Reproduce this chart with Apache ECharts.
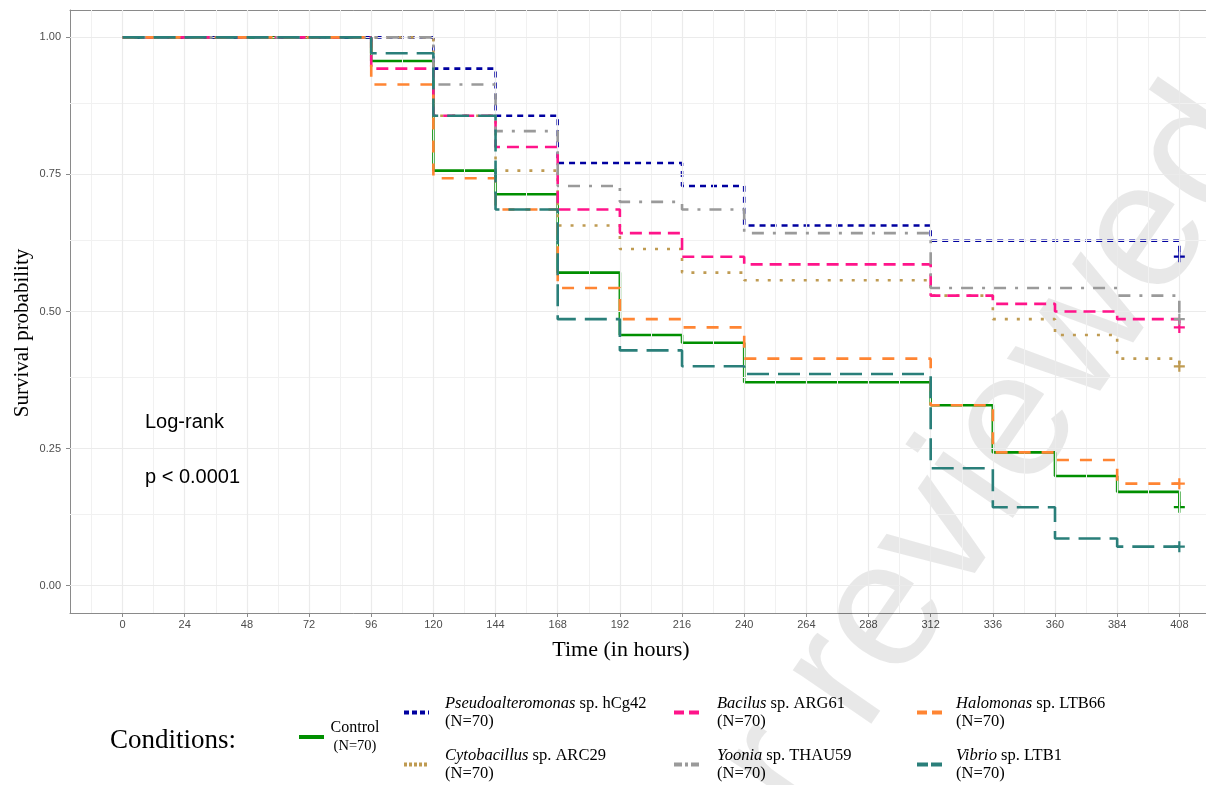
<!DOCTYPE html>
<html><head><meta charset="utf-8">
<script src="https://cdn.jsdelivr.net/npm/echarts@6/dist/echarts.min.js"></script>
<style>html,body{margin:0;padding:0;background:#fff}#c{width:1206px;height:785px}</style>
</head><body><div id="c"></div>
<script>
// ---- data (Kaplan-Meier steps, N=70 per group) ----
const times = [0, 96, 120, 144, 168, 192, 216, 240, 312, 336, 360, 384, 408];
const control           = [1.000, 0.957, 0.757, 0.714, 0.571, 0.457, 0.443, 0.371, 0.329, 0.243, 0.200, 0.171, 0.143];
const pseudoalteromonas = [1.000, 1.000, 0.943, 0.857, 0.771, 0.771, 0.729, 0.657, 0.629, 0.629, 0.629, 0.629, 0.600];
const cytobacillus      = [1.000, 1.000, 0.857, 0.757, 0.657, 0.614, 0.571, 0.557, 0.529, 0.486, 0.457, 0.414, 0.400];
const bacilus           = [1.000, 0.943, 0.857, 0.800, 0.686, 0.643, 0.600, 0.586, 0.529, 0.514, 0.500, 0.486, 0.471];
const yoonia            = [1.000, 1.000, 0.914, 0.829, 0.729, 0.700, 0.686, 0.643, 0.543, 0.543, 0.543, 0.529, 0.486];
const halomonas         = [1.000, 0.914, 0.743, 0.686, 0.543, 0.486, 0.471, 0.414, 0.329, 0.243, 0.229, 0.186, 0.186];
const vibrio            = [1.000, 0.971, 0.857, 0.686, 0.486, 0.429, 0.400, 0.386, 0.214, 0.143, 0.086, 0.071, 0.071];

const groupNames = ['Control', 'Pseudoalteromonas sp. hCg42', 'Cytobacillus sp. ARC29', 'Bacilus sp. ARG61',
                    'Yoonia sp. THAU59', 'Halomonas sp. LTB66', 'Vibrio sp. LTB1'];
const groupN = [70, 70, 70, 70, 70, 70, 70];

const xTickValues = [0, 24, 48, 72, 96, 120, 144, 168, 192, 216, 240, 264, 288, 312, 336, 360, 384, 408];
const xMinorValues = [-12, 12, 36, 60, 84, 108, 132, 156, 180, 204, 228, 252, 276, 300, 324, 348, 372, 396];
const yTickValues = [0, 0.25, 0.5, 0.75, 1];
const yMinorValues = [0.125, 0.375, 0.625, 0.875];

const pvalText = ['Log-rank', 'p < 0.0001'];

// ---- styles ----
const seriesValues = [control, pseudoalteromonas, cytobacillus, bacilus, yoonia, halomonas, vibrio];
const colors = ['#008f00', '#0000a0', '#bf9b52', '#ff148a', '#9a9a9a', '#ff8533', '#2a7f7a'];
const dashes = ['solid', [6, 5], [3, 9], [12, 7], [12, 9, 3, 9], [12, 11], [22, 9]];
const legendDashes = ['solid', [5, 3], [3, 2], [10, 5], [8, 3, 3, 3], [10, 5], [11, 3]];

const PLUS = 'path://M4,0L6,0L6,10L4,10ZM0,4L10,4L10,6L0,6Z';
const SERIF = 'Liberation Serif';
const SANS = 'Liberation Sans';
const GRID_C = '#ebebeb';
const AXIS_C = '#8a8a8a';

const chart = echarts.init(document.getElementById('c'), null, {renderer: 'canvas'});

const kmSeries = groupNames.map((name, k) => ({
  type: 'line',
  name: name,
  step: 'end',
  symbol: 'none',
  showSymbol: true,
  z: 3 + k,
  silent: true,
  emphasis: {disabled: true},
  color: colors[k],
  itemStyle: {color: colors[k]},
  lineStyle: {color: colors[k], width: 2.6, type: dashes[k]},
  data: times.map((t, i) => i === times.length - 1
    ? {value: [t, seriesValues[k][i]], symbol: PLUS, symbolSize: 11}
    : [t, seriesValues[k][i]])
}));

const gridLines = [];
xMinorValues.forEach(v => gridLines.push({xAxis: v, lineStyle: {color: '#f1f1f1', width: 1, type: 'solid'}}));
yMinorValues.forEach(v => gridLines.push({yAxis: v, lineStyle: {color: '#f1f1f1', width: 1, type: 'solid'}}));
xTickValues.forEach(v => gridLines.push({xAxis: v, lineStyle: {color: GRID_C, width: 1.2, type: 'solid'}}));
yTickValues.forEach(v => gridLines.push({yAxis: v, lineStyle: {color: GRID_C, width: 1.2, type: 'solid'}}));

const gridSeries = {
  type: 'line', name: '__grid', data: [], z: 0, silent: true,
  markLine: {silent: true, symbol: ['none', 'none'], label: {show: false}, animation: false,
             emphasis: {disabled: true}, data: gridLines}
};

function legendFormatter(name) {
  const idx = groupNames.indexOf(name);
  const n = '(N=' + groupN[idx] + ')';
  if (name === 'Control') return '{c|Control}\n{cn|' + n + '}';
  const sp = name.indexOf(' ');
  return '{g|' + name.slice(0, sp) + '}{s|' + name.slice(sp) + '}\n{s|' + n + '}';
}
const legendRich = {
  g: {fontFamily: SERIF, fontStyle: 'italic', fontSize: 16.5, lineHeight: 18, color: '#000'},
  s: {fontFamily: SERIF, fontSize: 16.5, lineHeight: 18, color: '#000'},
  c: {fontFamily: SERIF, fontSize: 16, lineHeight: 18, color: '#000', align: 'center', width: 52},
  cn: {fontFamily: SERIF, fontSize: 14.5, lineHeight: 18, color: '#000', align: 'center', width: 52}
};
function legendData(names) {
  return names.map(nm => {
    const k = groupNames.indexOf(nm);
    return {name: nm, itemStyle: {opacity: 0}, lineStyle: {width: 4, type: legendDashes[k], color: colors[k], opacity: 1}};
  });
}
function mkLegend(names, left, top, pad) {
  return {
    data: legendData(names), orient: 'vertical', left: left, top: top, padding: 0,
    itemWidth: 25, itemHeight: 14, itemGap: 17, selectedMode: false,
    formatter: legendFormatter,
    textStyle: {rich: legendRich, padding: [0, 0, 0, pad]}
  };
}

const option = {
  animation: false,
  backgroundColor: '#fff',
  grid: {left: 70, right: 0, top: 10, bottom: 172, containLabel: false},
  xAxis: [{
    type: 'value', min: -20.3, max: 418.3,
    axisLine: {show: true, onZero: false, lineStyle: {color: AXIS_C, width: 1}},
    axisTick: {show: true, length: 4, customValues: xTickValues, lineStyle: {color: AXIS_C}},
    axisLabel: {customValues: xTickValues, color: '#4d4d4d', fontFamily: SANS, fontSize: 11, margin: 6},
    splitLine: {show: false}, minorSplitLine: {show: false}
  }, {
    type: 'value', position: 'top', min: -20.3, max: 418.3,
    axisLine: {show: true, onZero: false, lineStyle: {color: AXIS_C, width: 1}},
    axisTick: {show: false}, axisLabel: {show: false}, splitLine: {show: false}
  }],
  yAxis: {
    type: 'value', min: -0.05, max: 1.05,
    axisLine: {show: true, onZero: false, lineStyle: {color: AXIS_C, width: 1}},
    axisTick: {show: true, length: 4, customValues: yTickValues, lineStyle: {color: AXIS_C}},
    axisLabel: {customValues: yTickValues, formatter: v => v.toFixed(2), color: '#4d4d4d',
                fontFamily: SANS, fontSize: 11, margin: 9},
    splitLine: {show: false}
  },
  legend: [
    mkLegend(['Control'], 297, 720, 0),
    mkLegend(['Pseudoalteromonas sp. hCg42', 'Cytobacillus sp. ARC29'], 402, 695, 11),
    mkLegend(['Bacilus sp. ARG61', 'Yoonia sp. THAU59'], 672, 695, 13),
    mkLegend(['Halomonas sp. LTB66', 'Vibrio sp. LTB1'], 915, 695, 9)
  ],
  graphic: [
    {type: 'text', x: 591, y: 1044, rotation: 55.5 * Math.PI / 180, z: 1, silent: true,
     style: {text: 'peer reviewed', fontFamily: SANS, fontSize: 180, fill: 'rgba(0,0,0,0.09)',
             align: 'left', verticalAlign: 'middle'}},
    {type: 'text', x: 145, y: 422, z: 10,
     style: {text: pvalText[0], fontFamily: SANS, fontSize: 20, fill: '#000', align: 'left', verticalAlign: 'middle'}},
    {type: 'text', x: 145, y: 477, z: 10,
     style: {text: pvalText[1], fontFamily: SANS, fontSize: 20, fill: '#000', align: 'left', verticalAlign: 'middle'}},
    {type: 'text', x: 621, y: 650, z: 10,
     style: {text: 'Time (in hours)', fontFamily: SERIF, fontSize: 22, fill: '#000', align: 'center', verticalAlign: 'middle'}},
    {type: 'text', x: 22, y: 333, rotation: Math.PI / 2, z: 10,
     style: {text: 'Survival probability', fontFamily: SERIF, fontSize: 21, fill: '#000', align: 'center', verticalAlign: 'middle'}},
    {type: 'text', x: 110, y: 741, z: 10,
     style: {text: 'Conditions:', fontFamily: SERIF, fontSize: 27, fill: '#000', align: 'left', verticalAlign: 'middle'}}
  ],
  series: [gridSeries].concat(kmSeries)
};
chart.setOption(option);
</script>
</body></html>
